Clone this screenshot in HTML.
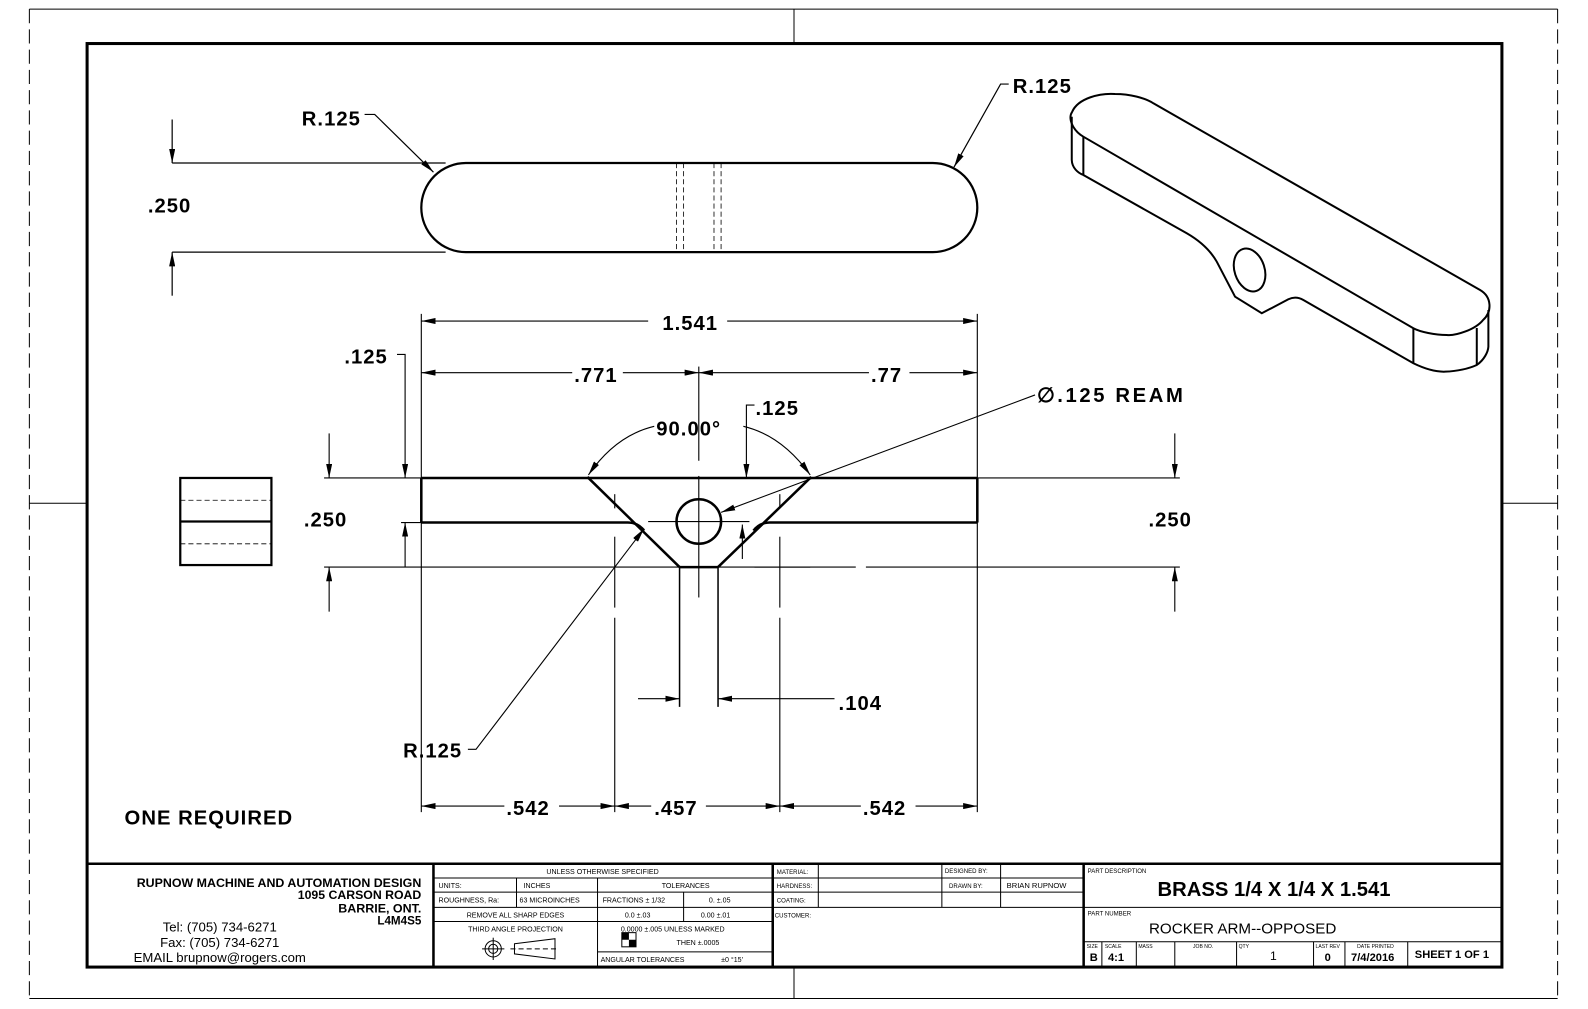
<!DOCTYPE html>
<html><head><meta charset="utf-8"><style>
html,body{margin:0;padding:0;background:#fff;}
svg{display:block;}
text{font-family:"Liberation Sans",sans-serif;fill:#000;}
.d{font-size:20px;font-weight:bold;letter-spacing:1px;}
.t{font-size:7px;}
</style></head><body>
<svg width="1588" height="1009" viewBox="0 0 1568 996.4" preserveAspectRatio="none" xmlns="http://www.w3.org/2000/svg">
<defs>
<marker id="a" viewBox="0 0 14 6" refX="14" refY="3" markerWidth="14" markerHeight="6" orient="auto" markerUnits="userSpaceOnUse"><path d="M0,0 L14,3 L0,6z" fill="#000"/></marker>
</defs>
<rect width="1568" height="997" fill="#fff"/>
<g stroke="#000" fill="none" stroke-width="1">
<line x1="29" y1="9" x2="1538" y2="9"/>
<line x1="29" y1="986" x2="1538" y2="986"/>
<line x1="29" y1="9" x2="29" y2="986" stroke-dasharray="14,6"/>
<line x1="1538" y1="9" x2="1538" y2="986" stroke-dasharray="14,6"/>
<line x1="784" y1="9" x2="784" y2="43"/><line x1="784" y1="955" x2="784" y2="986"/>
<line x1="29" y1="497" x2="86" y2="497"/><line x1="1483" y1="497" x2="1538" y2="497"/>
</g>
<rect x="86" y="43" width="1397" height="912" fill="none" stroke="#000" stroke-width="3"/>

<g stroke="#000" fill="none">
<rect x="416" y="161" width="549" height="88" rx="44" ry="44" stroke-width="2.2"/>
<g stroke-width="0.8" stroke-dasharray="5,3"><line x1="668" y1="161" x2="668" y2="249"/><line x1="675" y1="161" x2="675" y2="249"/><line x1="705" y1="161" x2="705" y2="249"/><line x1="712" y1="161" x2="712" y2="249"/></g>
<g stroke-width="1.2">
<line x1="170" y1="161" x2="440" y2="161"/><line x1="170" y1="249" x2="440" y2="249"/>
<line x1="170" y1="118" x2="170" y2="161" marker-end="url(#a)"/>
<line x1="170" y1="292" x2="170" y2="249" marker-end="url(#a)"/>
<polyline points="360,113 370,113 428,170" marker-end="url(#a)"/>
<polyline points="996,83 988,83 942,165" marker-end="url(#a)"/>
</g>
</g>
<text class="d" x="146" y="210">.250</text>
<text class="d" x="298" y="124">R.125</text>
<text class="d" x="1000" y="92">R.125</text>

<g transform="scale(0.98746)" stroke="#000" fill="none" stroke-width="2">
<path d="M1083.3,136.7 C1072,130 1068,118 1072,112 C1078,98 1100,93 1115,94 C1130,94 1145,98 1153.3,103.3 L1480,290 C1492,297 1492,312 1483,320 C1475,330 1455,336 1446.7,335 C1435,335 1420,332 1413.3,328.3 Z"/>
<path d="M1071.7,116.7 L1071.7,160 C1072,168 1078,173 1083.3,175 L1083.3,136.7"/>
<path d="M1083.3,175 L1186.7,233.3 C1200,241 1210,250 1216.7,261.7 L1235,296.7 L1261.7,313.3 L1288.3,299.3 C1293,297 1298,297 1303.3,300 L1413.3,363.3 C1425,369 1435,372 1445,371.7 C1460,371 1470,368 1476.7,365 C1484,360 1488,352 1488.3,346.7 L1488.3,310"/>
<line x1="1413.3" y1="328.3" x2="1413.3" y2="363.3"/>
<line x1="1476.7" y1="328" x2="1476.7" y2="365"/>
<ellipse cx="1249.5" cy="270" rx="15" ry="22" transform="rotate(-18 1249.5 270)"/>
</g>

<g stroke="#000" fill="none">
<g stroke-width="2.5">
<line x1="416" y1="472" x2="965" y2="472"/>
<line x1="416" y1="472" x2="416" y2="516"/>
<line x1="965" y1="472" x2="965" y2="516"/>
<path d="M416,516 L620,516 Q630,516 636,524"/>
<path d="M965,516 L760,516 Q750,516 744,524"/>
<line x1="580" y1="471" x2="671" y2="560"/>
<line x1="801" y1="471" x2="709" y2="560"/>
<line x1="671" y1="560" x2="709" y2="560"/>
<circle cx="690" cy="515" r="22"/>
</g>
<g stroke-width="1.5">
<line x1="671" y1="560" x2="671" y2="698"/>
<line x1="709" y1="560" x2="709" y2="698"/>
</g>
<g stroke-width="1.1">
<line x1="320" y1="472" x2="416" y2="472"/><line x1="965" y1="472" x2="1165" y2="472"/>
<line x1="320" y1="560" x2="671" y2="560"/><line x1="709" y1="560" x2="845" y2="560"/><line x1="855" y1="560" x2="1165" y2="560"/>
<line x1="396" y1="516" x2="416" y2="516"/>
<line x1="416" y1="310" x2="416" y2="472"/><line x1="965" y1="310" x2="965" y2="472"/>
<line x1="416" y1="516" x2="416" y2="802"/><line x1="965" y1="516" x2="965" y2="802"/>
<line x1="690" y1="362" x2="690" y2="455"/>
<line x1="690" y1="470" x2="690" y2="590"/>
<line x1="640" y1="515" x2="740" y2="515"/>
<line x1="607" y1="488" x2="607" y2="502"/><line x1="607" y1="530" x2="607" y2="600"/><line x1="607" y1="610" x2="607" y2="802"/>
<line x1="770" y1="488" x2="770" y2="502"/><line x1="770" y1="530" x2="770" y2="600"/><line x1="770" y1="610" x2="770" y2="802"/>
<line x1="745" y1="560" x2="800" y2="560"/>
<line x1="640" y1="317" x2="416" y2="317" marker-end="url(#a)"/>
<line x1="718" y1="317" x2="965" y2="317" marker-end="url(#a)"/>
<line x1="565" y1="368" x2="416" y2="368" marker-end="url(#a)"/>
<line x1="615" y1="368" x2="690" y2="368" marker-end="url(#a)"/>
<line x1="858" y1="368" x2="690" y2="368" marker-end="url(#a)"/>
<line x1="898" y1="368" x2="965" y2="368" marker-end="url(#a)"/>
<polyline points="392,350 400,350 400,472" marker-end="url(#a)"/>
<line x1="400" y1="560" x2="400" y2="516" marker-end="url(#a)"/>
<line x1="325" y1="428" x2="325" y2="472" marker-end="url(#a)"/>
<line x1="325" y1="604" x2="325" y2="560" marker-end="url(#a)"/>
<line x1="1160" y1="428" x2="1160" y2="472" marker-end="url(#a)"/>
<line x1="1160" y1="604" x2="1160" y2="560" marker-end="url(#a)"/>
<path d="M646,421 Q608,430 581,469" marker-end="url(#a)"/>
<path d="M734,421 Q772,430 800,469" marker-end="url(#a)"/>
<polyline points="745,400 737,400 737,472" marker-end="url(#a)"/>
<line x1="733" y1="552" x2="733" y2="518" marker-end="url(#a)"/>
<line x1="1022" y1="390" x2="712" y2="506" marker-end="url(#a)"/>
<polyline points="462,740 470,740 636,522" marker-end="url(#a)"/>
<line x1="630" y1="690" x2="671" y2="690" marker-end="url(#a)"/>
<line x1="824" y1="690" x2="709" y2="690" marker-end="url(#a)"/>
<line x1="498" y1="796" x2="416" y2="796" marker-end="url(#a)"/>
<line x1="552" y1="796" x2="607" y2="796" marker-end="url(#a)"/>
<line x1="643" y1="796" x2="607" y2="796" marker-end="url(#a)"/>
<line x1="697" y1="796" x2="770" y2="796" marker-end="url(#a)"/>
<line x1="850" y1="796" x2="770" y2="796" marker-end="url(#a)"/>
<line x1="904" y1="796" x2="965" y2="796" marker-end="url(#a)"/>
</g>
</g>
<text class="d" x="654" y="326">1.541</text>
<text class="d" x="567" y="377">.771</text>
<text class="d" x="860" y="377">.77</text>
<text class="d" x="340" y="359">.125</text>
<text class="d" x="300" y="520">.250</text>
<text class="d" x="1134" y="520">.250</text>
<text class="d" x="648" y="430">90.00°</text>
<text class="d" x="746" y="410">.125</text>
<text class="d" x="1024" y="397" textLength="145" lengthAdjust="spacing">∅.125 REAM</text>
<text class="d" x="398" y="748">R.125</text>
<text class="d" x="828" y="701">.104</text>
<text class="d" x="500" y="805">.542</text>
<text class="d" x="646" y="805">.457</text>
<text class="d" x="852" y="805">.542</text>

<g stroke="#000" fill="none">
<rect x="178" y="472" width="90" height="86" stroke-width="2.2"/>
<line x1="178" y1="515" x2="268" y2="515" stroke-width="2.2"/>
<line x1="178" y1="494" x2="268" y2="494" stroke-width="0.8" stroke-dasharray="5,3"/>
<line x1="178" y1="537" x2="268" y2="537" stroke-width="0.8" stroke-dasharray="5,3"/>
</g>
<text class="d" x="123" y="814">ONE REQUIRED</text>

<g stroke="#000" fill="none">
<line x1="86" y1="853" x2="1483" y2="853" stroke-width="2.5"/>
<line x1="428" y1="853" x2="428" y2="955" stroke-width="2.5"/>
<line x1="763" y1="853" x2="763" y2="955" stroke-width="2.5"/>
<line x1="1070" y1="853" x2="1070" y2="955" stroke-width="2.5"/>
<g stroke-width="1">
<line x1="428" y1="867" x2="763" y2="867"/>
<line x1="428" y1="881" x2="763" y2="881"/>
<line x1="428" y1="896" x2="763" y2="896"/>
<line x1="428" y1="910" x2="763" y2="910"/>
<line x1="590" y1="940" x2="763" y2="940"/>
<line x1="510" y1="867" x2="510" y2="896"/>
<line x1="590" y1="867" x2="590" y2="955"/>
<line x1="675" y1="881" x2="675" y2="910"/>
<line x1="763" y1="867" x2="1070" y2="867"/>
<line x1="763" y1="881" x2="1070" y2="881"/>
<line x1="763" y1="896" x2="1070" y2="896"/>
<line x1="808" y1="853" x2="808" y2="896"/>
<line x1="930" y1="853" x2="930" y2="896"/>
<line x1="988" y1="853" x2="988" y2="896"/>
<line x1="1070" y1="896" x2="1483" y2="896"/>
<line x1="1070" y1="930" x2="1483" y2="930"/>
<line x1="1088" y1="930" x2="1088" y2="955"/>
<line x1="1122" y1="930" x2="1122" y2="955"/>
<line x1="1160" y1="930" x2="1160" y2="955"/>
<line x1="1221" y1="930" x2="1221" y2="955"/>
<line x1="1297" y1="930" x2="1297" y2="955"/>
<line x1="1328" y1="930" x2="1328" y2="955"/>
<line x1="1390" y1="930" x2="1390" y2="955"/>
</g>
<g stroke-width="1">
<circle cx="487" cy="937" r="8"/><circle cx="487" cy="937" r="4.5"/>
<line x1="476" y1="937" x2="498" y2="937"/><line x1="487" y1="926" x2="487" y2="948"/>
<path d="M508,932 L548,927 L548,947 L508,942 Z"/>
<line x1="504" y1="937" x2="552" y2="937" stroke-dasharray="5,3"/>
</g>
<rect x="614" y="921" width="14" height="14" fill="#fff" stroke-width="1"/>
</g>
<path d="M614,921 h7 v7 h-7z M621,928 h7 v7 h-7z" fill="#000"/>
<g font-weight="bold" font-size="11.5px">
<text x="416" y="876" text-anchor="end" textLength="281" lengthAdjust="spacingAndGlyphs">RUPNOW MACHINE AND AUTOMATION DESIGN</text>
<text x="416" y="888" text-anchor="end" textLength="122" lengthAdjust="spacingAndGlyphs">1095 CARSON ROAD</text>
<text x="416" y="901" text-anchor="end" textLength="82" lengthAdjust="spacingAndGlyphs">BARRIE, ONT.</text>
<text x="416" y="913" text-anchor="end">L4M4S5</text>
</g>
<g font-size="13px" text-anchor="middle">
<text x="217" y="920">Tel: (705) 734-6271</text>
<text x="217" y="935">Fax: (705) 734-6271</text>
<text x="217" y="950">EMAIL brupnow@rogers.com</text>
</g>
<g class="t">
<text x="595" y="863" text-anchor="middle">UNLESS OTHERWISE SPECIFIED</text>
<text x="433" y="877">UNITS:</text><text x="517" y="877">INCHES</text>
<text x="677" y="877" text-anchor="middle">TOLERANCES</text>
<text x="433" y="891">ROUGHNESS, Ra:</text><text x="513" y="891">63 MICROINCHES</text>
<text x="595" y="891">FRACTIONS ± 1/32</text><text x="700" y="891">0.    ±.05</text>
<text x="509" y="906" text-anchor="middle">REMOVE ALL SHARP EDGES</text>
<text x="617" y="906">0.0    ±.03</text><text x="692" y="906">0.00    ±.01</text>
<text x="509" y="920" text-anchor="middle">THIRD ANGLE PROJECTION</text>
<text x="613" y="920">0.0000    ±.005 UNLESS MARKED</text>
<text x="668" y="933">THEN  ±.0005</text>
<text x="593" y="950">ANGULAR TOLERANCES</text><text x="712" y="950">±0 °15'</text>
<text x="767" y="863" font-size="6">MATERIAL:</text>
<text x="767" y="877" font-size="6">HARDNESS:</text>
<text x="767" y="891" font-size="6">COATING:</text>
<text x="765" y="906" font-size="6">CUSTOMER:</text>
<text x="933" y="862" font-size="6">DESIGNED BY:</text>
<text x="937" y="877" font-size="6">DRAWN BY:</text>
<text x="994" y="877" font-size="7.5">BRIAN RUPNOW</text>
<text x="1074" y="862" font-size="6">PART DESCRIPTION</text>
<text x="1074" y="904" font-size="6">PART NUMBER</text>
<text x="1073" y="936" font-size="5">SIZE</text>
<text x="1091" y="936" font-size="5">SCALE</text>
<text x="1124" y="936" font-size="5">MASS</text>
<text x="1178" y="936" font-size="5">JOB NO.</text>
<text x="1223" y="936" font-size="5">QTY</text>
<text x="1299" y="936" font-size="5">LAST REV</text>
<text x="1340" y="936" font-size="5">DATE PRINTED</text>
</g>
<text x="1258" y="885" text-anchor="middle" font-size="20px" font-weight="bold">BRASS  1/4 X 1/4 X 1.541</text>
<text x="1227" y="922" text-anchor="middle" font-size="15px">ROCKER ARM--OPPOSED</text>
<g font-weight="bold" font-size="11px">
<text x="1076" y="949">B</text>
<text x="1094" y="949">4:1</text>
<text x="1254" y="948" font-weight="normal" font-size="12px">1</text>
<text x="1308" y="949">0</text>
<text x="1334" y="949">7/4/2016</text>
<text x="1397" y="946">SHEET 1 OF  1</text>
</g>
</svg>
</body></html>
